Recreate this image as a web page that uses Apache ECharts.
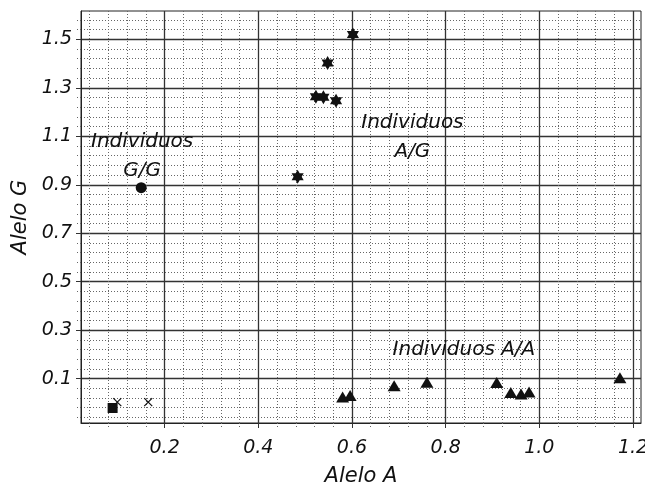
<!DOCTYPE html>
<html>
<head>
<meta charset="utf-8">
<script src="https://cdn.jsdelivr.net/npm/echarts@6/dist/echarts.min.js"></script>
<style>html,body{margin:0;padding:0;background:#fff}#c{width:645px;height:485px}</style>
</head>
<body>
<div id="c"></div>
<script>
// ---- data ----
var xTicks = [0.2, 0.4, 0.6, 0.8, 1.0, 1.2];
var yTicks = [0.1, 0.3, 0.5, 0.7, 0.9, 1.1, 1.3, 1.5];
var xRange = [0.0215, 1.217];
var yRange = [-0.083, 1.617];
var minorStep = 0.04;

var ggPoints = [[0.150, 0.888]];
var agPoints = [[0.484, 0.933], [0.523, 1.263], [0.539, 1.261], [0.566, 1.247], [0.548, 1.402], [0.602, 1.520]];
var aaPoints = [[0.580, 0.024], [0.596, 0.030], [0.690, 0.071], [0.760, 0.085], [0.909, 0.084], [0.939, 0.043], [0.961, 0.037], [0.978, 0.045], [1.172, 0.104]];
var squarePoints = [[0.089, -0.021]];
var crossPoints = [[0.099, 0.003], [0.165, 0.003]];

var annotations = [
  {value: [0.152, 1.018], text: 'Individuos\nG/G'},
  {value: [0.729, 1.096], text: 'Individuos\nA/G'},
  {value: [0.839, 0.219], text: 'Individuos A/A'}
];

// ---- minor grid values (gridlines only) ----
function minorValues(start, end, majors) {
  var out = [];
  for (var k = 0; k < 200; k++) {
    var v = Math.round((start + k * minorStep) * 1000) / 1000;
    if (v > end) break;
    var isMajor = majors.some(function (m) { return Math.abs(m - v) < 1e-6; });
    if (!isMajor) out.push(v);
  }
  return out;
}
var xMinor = minorValues(0.04, xRange[1], xTicks);
var yMinor = minorValues(-0.06, yRange[1], yTicks);

var FONT = 'DejaVu Sans';
var txt = '#111';
var MARK = '#111';
var STAR = 'path://M0,-10 L2.89,-5 L8.66,-5 L5.77,0 L8.66,5 L2.89,5 L0,10 L-2.89,5 L-8.66,5 L-5.77,0 L-8.66,-5 L-2.89,-5 Z';
var CROSS = 'path://M0,0 L10,10 M10,0 L0,10';

function minorAxis(vals, range, pos) {
  return {
    type: 'value', min: range[0], max: range[1], position: pos,
    axisLine: {show: false, onZero: false},
    axisLabel: {show: false},
    axisTick: {show: true, customValues: vals, length: 5, lineStyle: {color: '#666', width: 1, type: [1, 2]}},
    splitLine: {show: true, lineStyle: {color: '#666', width: 1, type: [1, 2]}}
  };
}

var chart = echarts.init(document.getElementById('c'), null, {renderer: 'canvas'});
chart.setOption({
  animation: false,
  backgroundColor: '#fff',
  grid: {left: 81, top: 11, right: 4, bottom: 62, show: true, borderColor: '#222', borderWidth: 1,
    backgroundColor: 'transparent', containLabel: false, outerBoundsMode: 'none'},
  xAxis: [
    minorAxis(xMinor, xRange, 'bottom'),
    {
      type: 'value', min: xRange[0], max: xRange[1], position: 'bottom',
      name: 'Alelo A', nameLocation: 'middle', nameGap: 43,
      nameTextStyle: {fontFamily: FONT, fontStyle: 'italic', fontSize: 21, color: txt},
      axisLine: {show: true, onZero: false, lineStyle: {color: '#222', width: 1}},
      axisTick: {show: true, customValues: xTicks, length: 5, lineStyle: {color: '#333', width: 1}},
      axisLabel: {customValues: xTicks, margin: 16, fontFamily: FONT, fontStyle: 'italic', fontSize: 19, color: txt,
        formatter: function (v) { return v.toFixed(1); }},
      splitLine: {show: true, lineStyle: {color: '#333', width: 1.3}}
    }
  ],
  yAxis: [
    minorAxis(yMinor, yRange, 'left'),
    {
      type: 'value', min: yRange[0], max: yRange[1], position: 'left',
      name: 'Alelo G', nameLocation: 'middle', nameGap: 50,
      nameTextStyle: {fontFamily: FONT, fontStyle: 'italic', fontSize: 21, color: txt},
      axisLine: {show: true, onZero: false, lineStyle: {color: '#222', width: 1}},
      axisTick: {show: true, customValues: yTicks, length: 5, lineStyle: {color: '#333', width: 1}},
      axisLabel: {customValues: yTicks, margin: 9, fontFamily: FONT, fontStyle: 'italic', fontSize: 19, color: txt,
        formatter: function (v) { return v.toFixed(1); }},
      splitLine: {show: true, lineStyle: {color: '#333', width: 1.3}}
    }
  ],
  series: [
    {type: 'scatter', xAxisIndex: 1, yAxisIndex: 1, data: ggPoints, symbol: 'circle', symbolSize: 11,
      itemStyle: {color: MARK, opacity: 1}, z: 5},
    {type: 'scatter', xAxisIndex: 1, yAxisIndex: 1, data: agPoints, symbol: STAR, symbolSize: 14, symbolKeepAspect: true,
      itemStyle: {color: MARK, opacity: 1}, z: 5},
    {type: 'scatter', xAxisIndex: 1, yAxisIndex: 1, data: aaPoints, symbol: 'triangle', symbolSize: [13, 11],
      itemStyle: {color: MARK, opacity: 1}, z: 5},
    {type: 'scatter', xAxisIndex: 1, yAxisIndex: 1, data: squarePoints, symbol: 'rect', symbolSize: 10,
      itemStyle: {color: MARK, opacity: 1}, z: 5},
    {type: 'scatter', xAxisIndex: 1, yAxisIndex: 1, data: crossPoints, symbol: CROSS, symbolSize: 8,
      itemStyle: {color: 'transparent', borderColor: MARK, borderWidth: 1.2, opacity: 1}, z: 5},
    {type: 'scatter', xAxisIndex: 1, yAxisIndex: 1, symbolSize: 1, silent: true,
      itemStyle: {color: 'transparent', opacity: 1}, z: 6,
      data: annotations.map(function (a) { return {value: a.value, name: a.text}; }),
      label: {show: true, position: 'inside', formatter: function (p) { return p.name; }, opacity: 1,
        fontFamily: FONT, fontStyle: 'italic', fontSize: 20, lineHeight: 29, color: txt, align: 'center', verticalAlign: 'middle'}}
  ]
});
</script>
</body>
</html>
